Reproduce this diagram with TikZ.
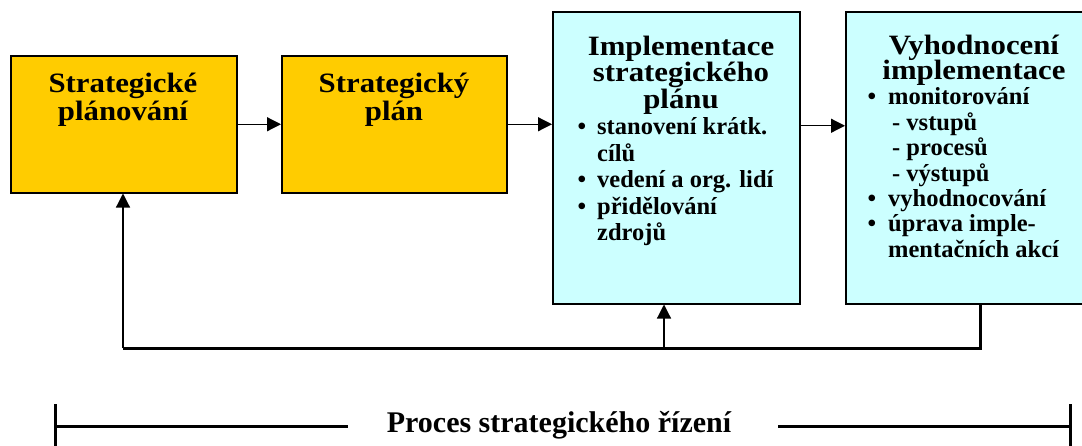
\documentclass[tikz,border=0pt]{standalone}
\usepackage{fontspec}
\setmainfont{Liberation Serif}
\newfontfamily\headfont{Liberation Serif}[FakeStretch=1.1]
\usetikzlibrary{arrows.meta,shadows,calc}
\definecolor{planyellow}{HTML}{FFCC00}
\definecolor{implcyan}{HTML}{CCFFFF}
\tikzset{
  box/.style={draw=black, line width=1.5pt, inner sep=0pt, anchor=north west,
    drop shadow={shadow xshift=1.5pt, shadow yshift=-1.5pt, fill=black, opacity=0.35}},
  head/.style={anchor=base, inner sep=0pt, font=\headfont\fontsize{28pt}{28pt}\selectfont\bfseries},
  item/.style={anchor=base west, inner sep=0pt, font=\fontsize{24.5pt}{24.5pt}\selectfont\bfseries},
  dot/.style={anchor=base, inner sep=0pt, font=\fontsize{24.5pt}{24.5pt}\selectfont\bfseries},
  link/.style={line width=1.2pt, -{Triangle[length=14pt,width=14pt]}},
  heavy/.style={line width=3pt, line join=miter},
}
\begin{document}
\begin{tikzpicture}[x=1pt,y=-1pt]
  \useasboundingbox (0,0) rectangle (1082,445);
  \clip (0,0) rectangle (1082,445);
  \fill[white] (0,0) rectangle (1082,445);

  % the four stages
  \node[box, fill=planyellow, minimum width=226pt, minimum height=137pt] (b1) at (10,55) {};
  \node[box, fill=planyellow, minimum width=225pt, minimum height=137pt] (b2) at (281,55) {};
  \node[box, fill=implcyan, minimum width=247pt, minimum height=292pt] (b3) at (552,11) {};
  \node[box, fill=implcyan, minimum width=260pt, minimum height=292pt] (b4) at (845,11) {};

  % stage 1 and 2 titles
  \node[head] (t1a) at (123,92) {Strategické};
  \node[head] (t1b) at (123,120) {plánování};
  \node[head] (t2a) at (394,92) {Strategický};
  \node[head] (t2b) at (394,120) {plán};

  % stage 3: implementation
  \node[head] (t3a) at (681,55) {Implementace};
  \node[head] (t3b) at (681,81.5) {strategického};
  \node[head] (t3c) at (681,108) {plánu};
  \node[dot] (d3a) at (582,134.5) {•};
  \node[item] (i3a) at (597,134.5) {stanovení krátk.};
  \node[item] (i3b) at (597,161) {cílů};
  \node[dot] (d3b) at (582,187.5) {•};
  \node[item] (i3c) at (597,187.5) {vedení a org. lidí};
  \node[dot] (d3c) at (582,214) {•};
  \node[item] (i3d) at (597,214) {přidělování};
  \node[item] (i3e) at (597,240.5) {zdrojů};

  % stage 4: evaluation
  \node[head] (t4a) at (974,54) {Vyhodnocení};
  \node[head] (t4b) at (974,79.4) {implementace};
  \node[dot] (d4a) at (872,104.8) {•};
  \node[item] (i4a) at (888,104.8) {monitorování};
  \node[item] (i4b) at (892,130.2) {- vstupů};
  \node[item] (i4c) at (892,155.6) {- procesů};
  \node[item] (i4d) at (892,181) {- výstupů};
  \node[dot] (d4b) at (872,206.4) {•};
  \node[item] (i4e) at (888,206.4) {vyhodnocování};
  \node[dot] (d4c) at (872,231.8) {•};
  \node[item] (i4f) at (888,231.8) {úprava imple-};
  \node[item] (i4g) at (888,257.2) {mentačních akcí};

  % forward flow
  \draw[link] (b1.east) -- (b2.west);
  \draw[link] (b2.east) -- (b2.east -| b3.west);
  \draw[link] ([yshift=32pt]b3.east) -- ([yshift=32pt]b4.west);

  % feedback loop
  \coordinate (fbR) at (980,348);
  \coordinate (fbM) at (664,348);
  \coordinate (fbL) at (123,348);
  \draw[heavy] (b4.south -| fbR) -- (fbR) -- (fbL);
  \draw[link] (fbL) -- (b1.south -| fbL);
  \draw[link] (fbM) -- (b3.south -| fbM);

  % span of the whole process
  \node[anchor=base, inner sep=0pt, font=\fontsize{30pt}{30pt}\selectfont\bfseries] (proc) at (559,432) {Proces strategického řízení};
  \coordinate (brL) at (55,426);
  \coordinate (brLi) at (348,426);
  \coordinate (brRi) at (778,426);
  \coordinate (brR) at (1070,426);
  \draw[heavy] (brL) -- (brLi);
  \draw[heavy] (brRi) -- (brR);
  \draw[line width=3pt] (55,404) -- (55,450);
  \draw[line width=3pt] (1070,404) -- (1070,450);
\end{tikzpicture}
\end{document}
